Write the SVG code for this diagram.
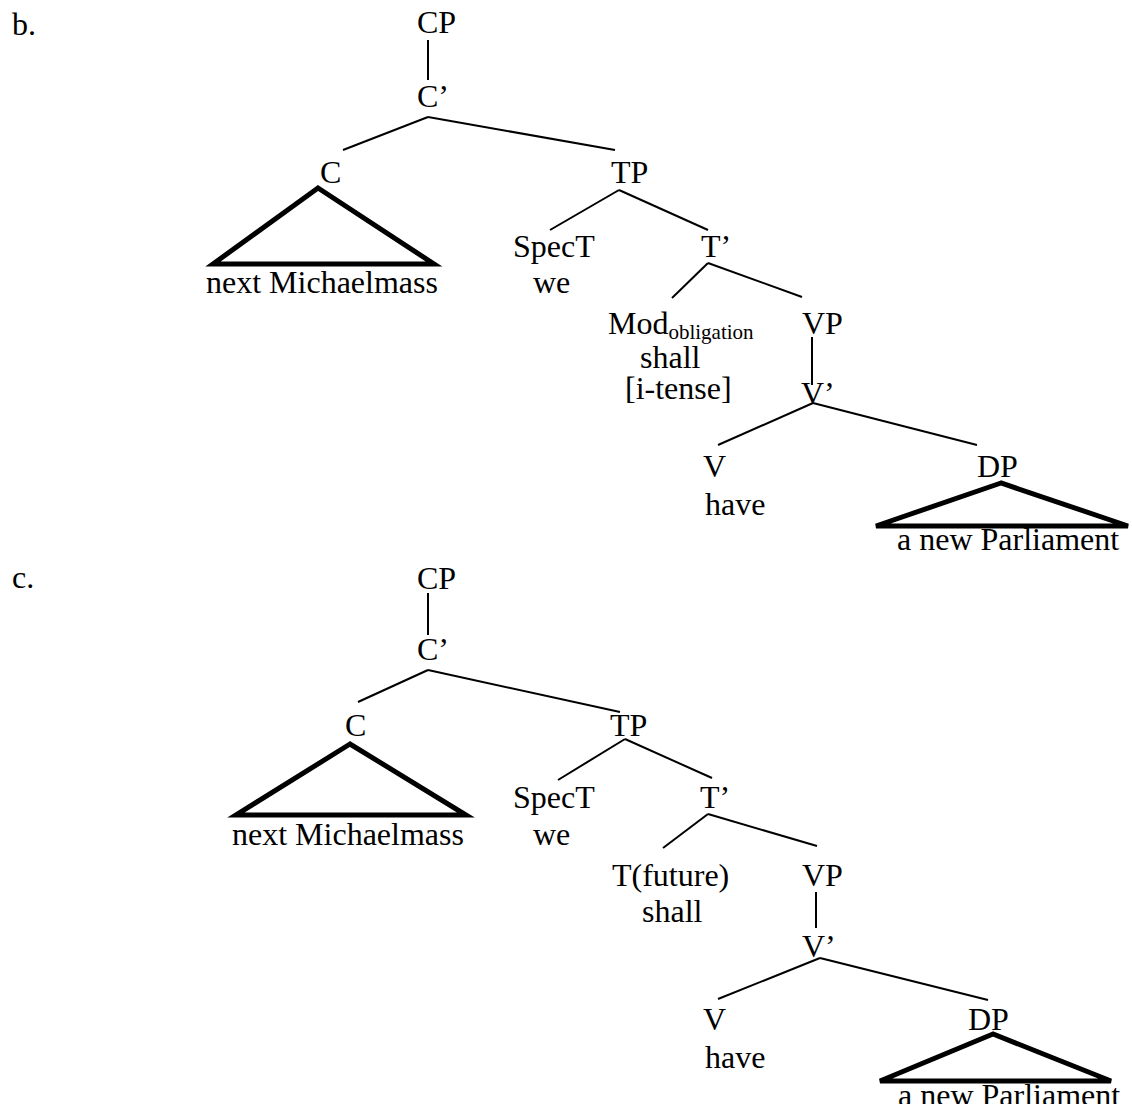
<svg xmlns="http://www.w3.org/2000/svg" width="1132" height="1104" viewBox="0 0 1132 1104">
  <style>
    text { font-family: "Liberation Serif", "Times New Roman", serif; font-size: 32px; fill: #000; }
    .sub { font-size: 21px; }
    .edge { stroke: #000; stroke-width: 2; fill: none; stroke-linecap: butt; }
    .tri { stroke: #000; stroke-width: 5; fill: none; stroke-linejoin: miter; }
  </style>
  <rect width="1132" height="1104" fill="#fff"/>

  <!-- example labels -->
  <text id="label-b" x="12" y="35">b.</text>
  <text id="label-c" x="12" y="588">c.</text>

  <!-- tree b: branches -->
  <g id="edges-b">
    <line class="edge" x1="428" y1="40" x2="428" y2="80"/>
    <line class="edge" x1="428" y1="117" x2="343" y2="150"/>
    <line class="edge" x1="428" y1="117" x2="615" y2="150"/>
    <line class="edge" x1="619" y1="190" x2="550" y2="230"/>
    <line class="edge" x1="619" y1="190" x2="708" y2="230"/>
    <line class="edge" x1="708" y1="263" x2="672" y2="298"/>
    <line class="edge" x1="708" y1="263" x2="802" y2="297"/>
    <line class="edge" x1="812" y1="337" x2="812" y2="385"/>
    <line class="edge" x1="813" y1="403" x2="718" y2="445"/>
    <line class="edge" x1="813" y1="403" x2="977" y2="445"/>
    <polygon class="tri" points="318,188 213,264 434,264"/>
    <polygon class="tri" points="1001,483 876,526 1128,526"/>
  </g>

  <!-- tree b: nodes -->
  <g id="b-CP"><text x="417" y="33">CP</text></g>
  <g id="b-Cbar"><text x="417" y="107">C’</text></g>
  <g id="b-C"><text x="320" y="183">C</text></g>
  <g id="b-C-yield"><text x="206" y="293">next Michaelmass</text></g>
  <g id="b-TP"><text x="611" y="183">TP</text></g>
  <g id="b-SpecT"><text x="513" y="257">SpecT</text><text x="533" y="293">we</text></g>
  <g id="b-Tbar"><text x="701" y="257">T’</text></g>
  <g id="b-Mod">
    <text x="608" y="334">Mod<tspan class="sub" dy="5">obligation</tspan></text>
    <text x="640" y="368">shall</text>
    <text x="625" y="399">[i-tense]</text>
  </g>
  <g id="b-VP"><text x="802" y="334">VP</text></g>
  <g id="b-Vbar"><text x="801" y="404">V’</text></g>
  <g id="b-V"><text x="703" y="477">V</text><text x="705" y="515">have</text></g>
  <g id="b-DP"><text x="977" y="477">DP</text></g>
  <g id="b-DP-yield"><text x="897" y="550">a new Parliament</text></g>

  <!-- tree c: branches -->
  <g id="edges-c">
    <line class="edge" x1="428" y1="593" x2="428" y2="635"/>
    <line class="edge" x1="428" y1="670" x2="358" y2="702"/>
    <line class="edge" x1="428" y1="670" x2="620" y2="712"/>
    <line class="edge" x1="625" y1="739" x2="558" y2="780"/>
    <line class="edge" x1="625" y1="739" x2="712" y2="778"/>
    <line class="edge" x1="708" y1="814" x2="663" y2="848"/>
    <line class="edge" x1="708" y1="814" x2="817" y2="846"/>
    <line class="edge" x1="816" y1="892" x2="816" y2="928"/>
    <line class="edge" x1="820" y1="958" x2="718" y2="999"/>
    <line class="edge" x1="820" y1="958" x2="988" y2="1000"/>
    <polygon class="tri" points="350,744 236,815 466,815"/>
    <polygon class="tri" points="993,1034 880,1081 1111,1081"/>
  </g>

  <!-- tree c: nodes -->
  <g id="c-CP"><text x="417" y="589">CP</text></g>
  <g id="c-Cbar"><text x="417" y="660">C’</text></g>
  <g id="c-C"><text x="345" y="736">C</text></g>
  <g id="c-C-yield"><text x="232" y="845">next Michaelmass</text></g>
  <g id="c-TP"><text x="610" y="736">TP</text></g>
  <g id="c-SpecT"><text x="513" y="808">SpecT</text><text x="533" y="845">we</text></g>
  <g id="c-Tbar"><text x="700" y="808">T’</text></g>
  <g id="c-T">
    <text x="612" y="886">T(future)</text>
    <text x="642" y="922">shall</text>
  </g>
  <g id="c-VP"><text x="802" y="886">VP</text></g>
  <g id="c-Vbar"><text x="802" y="957">V’</text></g>
  <g id="c-V"><text x="703" y="1030">V</text><text x="705" y="1068">have</text></g>
  <g id="c-DP"><text x="968" y="1030">DP</text></g>
  <g id="c-DP-yield"><text x="898" y="1106">a new Parliament</text></g>
</svg>
